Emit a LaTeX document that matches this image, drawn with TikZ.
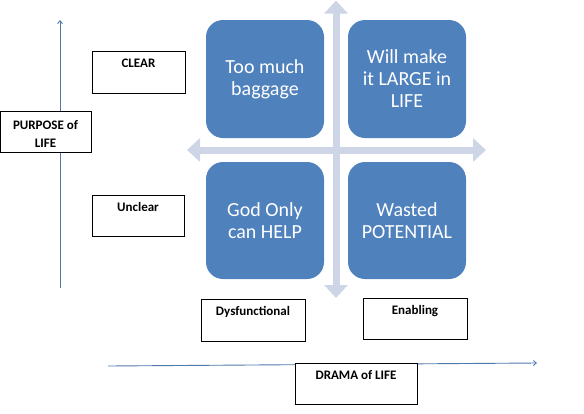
\documentclass[tikz,border=0pt]{standalone}
\usepackage{fontspec}
\setmainfont{Carlito}
\usetikzlibrary{arrows.meta}
\definecolor{quad}{HTML}{4F81BD}
\definecolor{cross}{HTML}{CDD5E7}
\definecolor{axis}{HTML}{5079AC}
\begin{document}
\begin{tikzpicture}[x=1pt,y=-1pt,
  quadbox/.style={fill=quad, rounded corners=17pt, text=white, font=\fontsize{20}{22}\selectfont, align=center, minimum width=118pt, minimum height=118pt, inner sep=0pt},
  tbox/.style={draw=black, fill=white, line width=0.8pt, inner sep=0pt,
    label={[anchor=base, inner sep=0pt, yshift=-17pt, font=\bfseries\fontsize{13}{15}\selectfont]north:#1}},
  crossarrow/.style={draw=cross, line width=7pt, {Triangle[width=23pt,length=13pt]}-{Triangle[width=23pt,length=13pt]}},
  axisline/.style={draw=axis, line width=0.9pt, -{Straight Barb[length=3pt,width=5pt]}}
  ]
\useasboundingbox (0,0) rectangle (584,413);
% axes
\coordinate (vaxb) at (60,288);
\coordinate (vaxt) at (60,20);
\coordinate (haxl) at (108,366);
\coordinate (haxr) at (537,363);
\draw[axisline] (vaxb) -- (vaxt);
\draw[axisline] (haxl) -- (haxr);
% cross
\coordinate (ct) at (336,0.5);
\coordinate (cb) at (336,298);
\coordinate (cl) at (187,150);
\coordinate (cr) at (486,150);
\draw[crossarrow] (cb) -- (ct);
\draw[crossarrow] (cl) -- (cr);
% quadrants
\node[quadbox] (tl) at (265,79) {Too much\\baggage};
\node[quadbox] (tr) at (407,79) {Will make\\it LARGE in\\LIFE};
\node[quadbox, minimum height=117pt] (bl) at (265,220.5) {God Only\\can HELP};
\node[quadbox, minimum height=117pt] (br) at (407,220.5) {Wasted\\POTENTIAL};
% label boxes
\node[tbox=CLEAR, minimum width=93pt, minimum height=42pt] (clear) at (138.5,72) {};
\node[tbox=Unclear, minimum width=92pt, minimum height=41pt] (unclear) at (138,215.5) {};
\node[tbox=Dysfunctional, minimum width=104pt, minimum height=42pt] (dys) at (253,320) {};
\node[tbox=Enabling, minimum width=104pt, minimum height=41pt] (enab) at (415,318.5) {};
\node[tbox={DRAMA of LIFE}, minimum width=122pt, minimum height=41pt] (drama) at (356,383.5) {};
\node[draw=black, fill=white, line width=0.8pt, inner sep=0pt, minimum width=91pt, minimum height=41pt,
  label={[anchor=center, inner sep=0pt, yshift=-2.5pt, align=center, font=\bfseries\fontsize{13}{18}\selectfont]center:{PURPOSE of\\LIFE}}] (purpose) at (45.5,131.5) {};
\end{tikzpicture}
\end{document}
